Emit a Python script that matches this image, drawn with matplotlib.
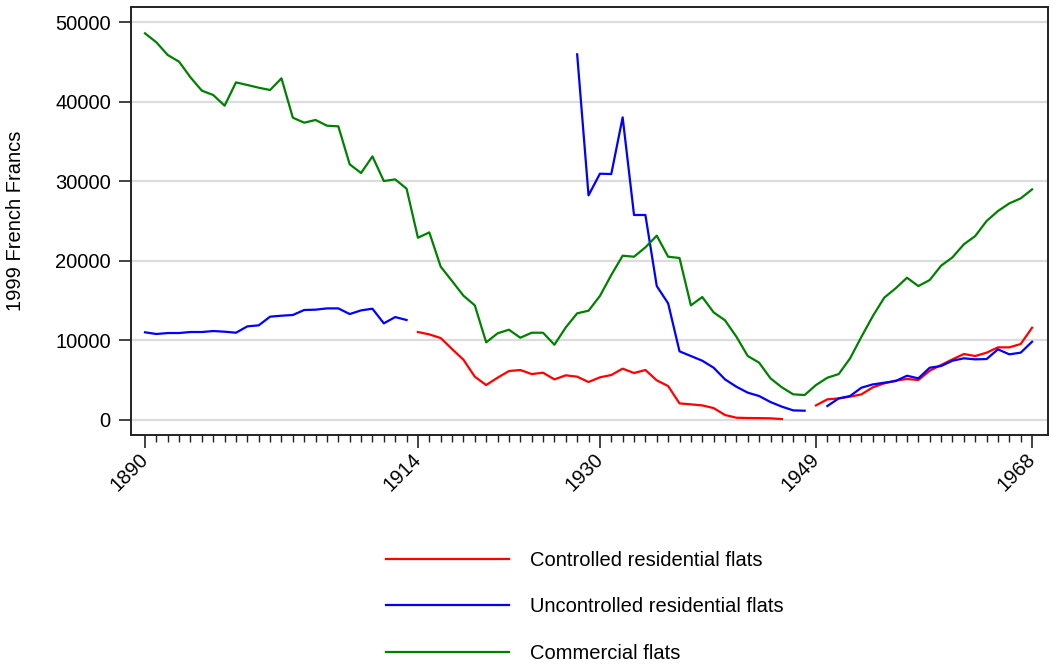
import matplotlib
matplotlib.use("Agg")
import matplotlib.pyplot as plt
import numpy as np

plt.rcParams['font.family'] = ['Liberation Sans', 'DejaVu Sans']

# years and values (1999 French Francs); None = gap
years = list(range(1890, 1969))

commercial = [48600, 47470, 45870, 45030, 43060, 41390, 40840, 39500, 42430, 42100,
              41760, 41470, 42940, 37990, 37360, 37700, 36980, 36900, 32120, 31030,
              33120, 30020, 30230, 29060, 22890, 23560, 19250, 17440, 15600, 14380,
              9730, 10860, 11320, 10310, 10940, 10940, 9430, 11610, 13380, 13710,
              15560, 18200, 20630, 20500, 21680, 23150, 20500, 20340, 14380, 15430,
              13500, 12500, 10440, 8010, 7170, 5200, 4070, 3190, 3100, 4360,
              5280, 5740, 7720, 10440, 13040, 15350, 16520, 17860, 16810, 17570,
              19370, 20420, 22060, 23100, 24990, 26250, 27210, 27840, 28970]

uncontrolled = [10990, 10780, 10900, 10900, 11030, 11030, 11150, 11070, 10940, 11740,
                11870, 12960, 13080, 13170, 13800, 13840, 14000, 14000, 13290, 13750,
                13960, 12120, 12910, 12540, None, None, None, None, None, None,
                None, None, None, None, None, None, None, None, 45960, 28220,
                30940, 30900, 38030, 25750, 25750, 16810, 14630, 8600, 8010, 7420,
                6540, 5070, 4150, 3400, 2980, 2220, 1640, 1170, 1130, None,
                1720, 2680, 2980, 4030, 4440, 4650, 4860, 5530, 5200, 6540,
                6750, 7420, 7720, 7590, 7630, 8850, 8220, 8430, 9810]

controlled = [None] * 24 + [
              11030, 10730, 10270, 8890, 7550, 5410,
              4360, 5280, 6120, 6250, 5740, 5910, 5070, 5580, 5410, 4740,
              5330, 5620, 6420, 5870, 6250, 4950, 4230, 2050, 1930, 1800,
              1460, 590, 250, 210, 200, 170, 80, None, None, 1800,
              2560, 2680, 2890, 3190, 4070, 4570, 4910, 5120, 4990, 6160,
              6880, 7590, 8260, 8010, 8430, 9100, 9100, 9520, 11570]

labels = ['Controlled residential flats', 'Uncontrolled residential flats', 'Commercial flats']
colors = ['#ff0000', '#0000ff', '#008000']
xtick_years = [1890, 1914, 1930, 1949, 1968]


def arr(v):
    return np.array([np.nan if x is None else x for x in v], dtype=float)


fs = 14.5
fig = plt.figure(figsize=(10.51, 6.66), dpi=100)
ax = fig.add_axes([131 / 1051, 1 - 435 / 666, (1048 - 131) / 1051, (435 - 7) / 666])

for s, lab, c in zip([controlled, uncontrolled, commercial], labels, colors):
    ax.plot(years, arr(s), color=c, lw=1.6, label=lab)

ax.set_xlim(1888.77, 1969.4)
ax.set_ylim(-1925, 51912)

ax.set_yticks([0, 10000, 20000, 30000, 40000, 50000])
ax.set_yticklabels(['0', '10000', '20000', '30000', '40000', '50000'], fontsize=fs)
ax.yaxis.grid(True, color='#dcdcdc', lw=1.6)
ax.set_axisbelow(True)

ax.set_xticks(xtick_years)
ax.set_xticklabels([str(y) for y in xtick_years], rotation=45, ha='right', va='center',
                   rotation_mode='anchor', fontsize=fs)
ax.set_xticks(years, minor=True)
ax.tick_params(axis='x', which='major', length=9.5, width=1.2, color='#222222', pad=6)
ax.tick_params(axis='x', which='minor', length=4.8, width=1.0, color='#222222')
ax.tick_params(axis='y', which='major', length=9, width=1.2, color='#222222', pad=5.5)

for sp in ax.spines.values():
    sp.set_linewidth(1.4)
    sp.set_color('#222222')

ax.set_ylabel('1999 French Francs', fontsize=fs)
ax.yaxis.set_label_coords(-0.116, 0.5)

fig.legend(loc='upper left', bbox_to_anchor=(386 / 1051, 0.1733), frameon=False,
           fontsize=fs, handlelength=6.1, handletextpad=1.05, labelspacing=1.37,
           borderpad=0, borderaxespad=0)

fig.savefig('out.png', dpi=100)
